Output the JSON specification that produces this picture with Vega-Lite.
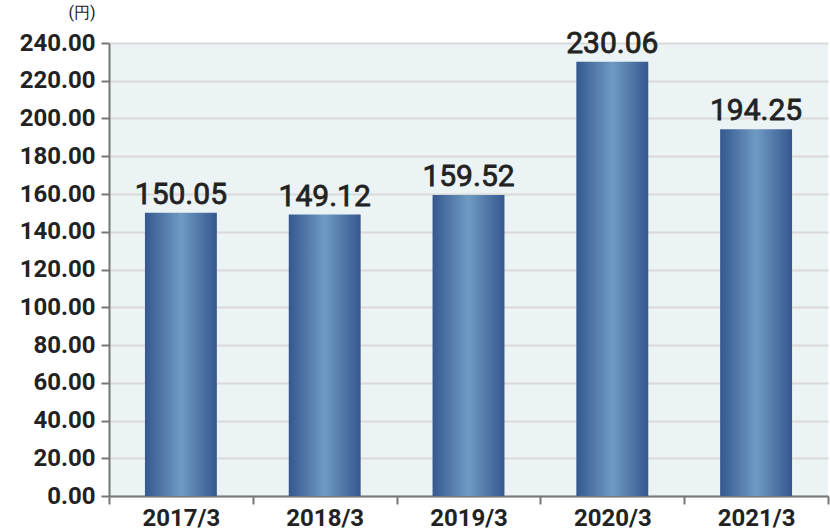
{
  "$schema": "https://vega.github.io/schema/vega-lite/v6.json",
  "width": 719,
  "height": 453,
  "autosize": {"type": "none"},
  "padding": {"left": 109, "top": 43, "right": 2, "bottom": 34},
  "background": "#ffffff",
  "config": {
    "font": "Roboto",
    "view": {"fill": "#ebf3f5", "stroke": null}
  },
  "data": {
    "values": [
      {"year": "2017/3", "value": 150.05},
      {"year": "2018/3", "value": 149.12},
      {"year": "2019/3", "value": 159.52},
      {"year": "2020/3", "value": 230.06},
      {"year": "2021/3", "value": 194.25}
    ]
  },
  "encoding": {
    "x": {
      "field": "year",
      "type": "nominal",
      "sort": null,
      "scale": {"paddingInner": 0, "paddingOuter": 0},
      "axis": {
        "title": null,
        "labelAngle": 0,
        "labelFontSize": 24,
        "labelFontWeight": "bold",
        "labelColor": "#222222",
        "labelPadding": 2,
        "tickBand": "extent",
        "tickSize": 8,
        "tickWidth": 2,
        "tickColor": "#777777",
        "domainColor": "#777777",
        "domainWidth": 2,
        "grid": false
      }
    },
    "y": {
      "field": "value",
      "type": "quantitative",
      "scale": {"domain": [0, 240], "nice": false},
      "axis": {
        "title": "(円)",
        "titleAngle": 0,
        "titleAlign": "right",
        "titleBaseline": "top",
        "titleX": -14,
        "titleY": -39,
        "titleFontSize": 16,
        "titleFontWeight": "normal",
        "titleColor": "#222222",
        "values": [0, 20, 40, 60, 80, 100, 120, 140, 160, 180, 200, 220, 240],
        "format": ".2f",
        "labelFontSize": 24,
        "labelFontWeight": "bold",
        "labelColor": "#222222",
        "labelPadding": 6,
        "tickSize": 8,
        "tickWidth": 2,
        "tickColor": "#777777",
        "domainColor": "#777777",
        "domainWidth": 2,
        "grid": true,
        "gridColor": "#d9d9d9",
        "gridWidth": 2
      }
    }
  },
  "layer": [
    {
      "mark": {
        "type": "bar",
        "width": {"band": 0.5},
        "color": {
          "gradient": "linear",
          "x1": 0, "y1": 0, "x2": 1, "y2": 0,
          "stops": [
            {"offset": 0, "color": "#35588f"},
            {"offset": 0.5, "color": "#6f9bc2"},
            {"offset": 1, "color": "#35588f"}
          ]
        }
      }
    },
    {
      "mark": {
        "type": "text",
        "baseline": "alphabetic",
        "dy": -9,
        "fontSize": 30,
        "fontWeight": "normal",
        "color": "#222222",
        "stroke": "#222222",
        "strokeWidth": 0.8
      },
      "encoding": {
        "text": {"field": "value", "type": "quantitative", "format": ".2f"}
      }
    }
  ]
}
